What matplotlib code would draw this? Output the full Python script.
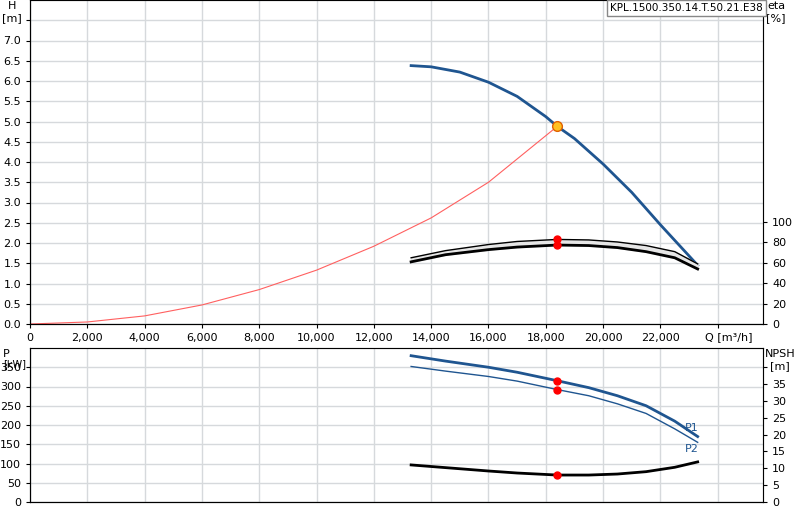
import matplotlib
matplotlib.use("Agg")
import matplotlib.pyplot as plt
import numpy as np

q_pump = [13300, 14000, 15000, 16000, 17000, 18000, 18400, 19000, 20000, 21000, 22000, 23300]
h_pump = [6.38, 6.35, 6.22, 5.97, 5.62, 5.12, 4.88, 4.58, 3.95, 3.25, 2.45, 1.45]
q_sys = [0, 2000, 4000, 6000, 8000, 10000, 12000, 14000, 16000, 18400]
h_sys = [0, 0.05, 0.2, 0.47, 0.85, 1.33, 1.92, 2.62, 3.5, 4.88]
q_eta = [13300, 14500, 16000, 17000, 18400, 19500, 20500, 21500, 22500, 23300]
eta1 = [61, 68, 73, 75.5, 77.5, 77, 75, 71, 65, 54]
eta2 = [65, 72, 78, 81, 83, 82.5, 80.5, 77, 71, 59]
q_p = [13300, 14500, 16000, 17000, 18400, 19500, 20500, 21500, 22500, 23300]
p1 = [380, 366, 350, 337, 315, 297, 276, 250, 210, 170]
p2 = [352, 340, 326, 314, 292, 276, 255, 230, 190, 155]
npsh = [11, 10.2, 9.2, 8.6, 8.0, 8.0, 8.3, 9.0, 10.3, 11.9]
q_op = 18400
h_op = 4.88
eta_op = [83, 77.5]
p_op = [315, 292]
npsh_op = 8.0

blue = "#1f5590"
fig = plt.figure(figsize=(8, 5.2), dpi=100)
ax = fig.add_axes([30/800, 1-324/520, 733/800, 324/520])
ax2 = ax.twinx()
bx = fig.add_axes([30/800, 1-502/520, 733/800, 154/520])
bx2 = bx.twinx()
grid = "#d6d9dc"
for a in (ax, bx):
    a.set_xlim(0, 25580)
    a.set_xticks(np.arange(0, 25000, 2000))
    a.grid(True, color=grid, lw=1)
    a.set_axisbelow(True)
    a.tick_params(labelsize=8, length=3)
    for s in ("top", "right"):
        a.spines[s].set_color("#999999")
ax.set_ylim(0, 8)
ax.set_yticks(np.arange(0, 7.51, 0.5))
ax.set_yticklabels([f"{v:.1f}" if v <= 7 else "" for v in np.arange(0, 7.51, 0.5)])
ax.set_xticklabels(["0"] + [f"{v:,}" for v in range(2000, 24000, 2000)] + [""])
ax2.set_ylim(0, 318)
ax2.set_yticks(np.arange(0, 101, 20))
ax2.tick_params(labelsize=8, length=3)
bx.set_ylim(0, 400)
bx.set_yticks(np.arange(0, 351, 50))
bx.set_xticklabels([])
bx.tick_params(axis="x", length=0)
bx2.set_ylim(0, 45.7)
bx2.set_yticks(np.arange(0, 41, 5))
bx2.set_yticklabels([str(v) for v in range(0, 36, 5)] + [""])
bx2.tick_params(labelsize=8, length=3)
for a in (ax2, bx2):
    a.spines["right"].set_color("black")

ax.plot(q_sys, h_sys, color="#ff6060", lw=0.8)
ax.plot(q_pump, h_pump, color=blue, lw=2)
ax2.fill_between(q_eta, eta1, eta2, color="#e6e6e6")
ax2.plot(q_eta, eta1, color="black", lw=2)
ax2.plot(q_eta, eta2, color="black", lw=1)
ax2.plot([q_op]*2, eta_op, "o", color="red", ms=5)
ax2.plot(q_op, h_op*318/8, "o", ms=7, mfc="#ffc020", mec="#e06000")

bx.plot(q_p, p1, color=blue, lw=2)
bx.plot(q_p, p2, color=blue, lw=1)
bx.plot([q_op]*2, p_op, "o", color="red", ms=5)
bx2.plot(q_p, npsh, color="black", lw=2)
bx2.plot(q_op, npsh_op, "o", color="red", ms=5)
bx.text(23350, 180, "P1", color=blue, fontsize=8, ha="right", va="bottom")
bx.text(23350, 150, "P2", color=blue, fontsize=8, ha="right", va="top")

fig.text(12/800, 1-12/520, "H\n[m]", fontsize=8, ha="center", va="center")
fig.text(776/800, 1-12/520, "eta\n[%]", fontsize=8, ha="center", va="center")
fig.text(3/800, 1-354/520, "P", fontsize=8, ha="left", va="center")
fig.text(3/800, 1-364/520, "[kW]", fontsize=7, ha="left", va="center")
fig.text(780/800, 1-360/520, "NPSH\n[m]", fontsize=8, ha="center", va="center")
ax.text(0.985, -0.025, "Q [m³/h]", transform=ax.transAxes, fontsize=8, ha="right", va="top")
fig.text(686/800, 1-8/520, "KPL.1500.350.14.T.50.21.E38", fontsize=7.5, ha="center", va="center",
         bbox=dict(boxstyle="square,pad=0.3", fc="white", ec="#888888"))
fig.savefig("out.png", dpi=100)
